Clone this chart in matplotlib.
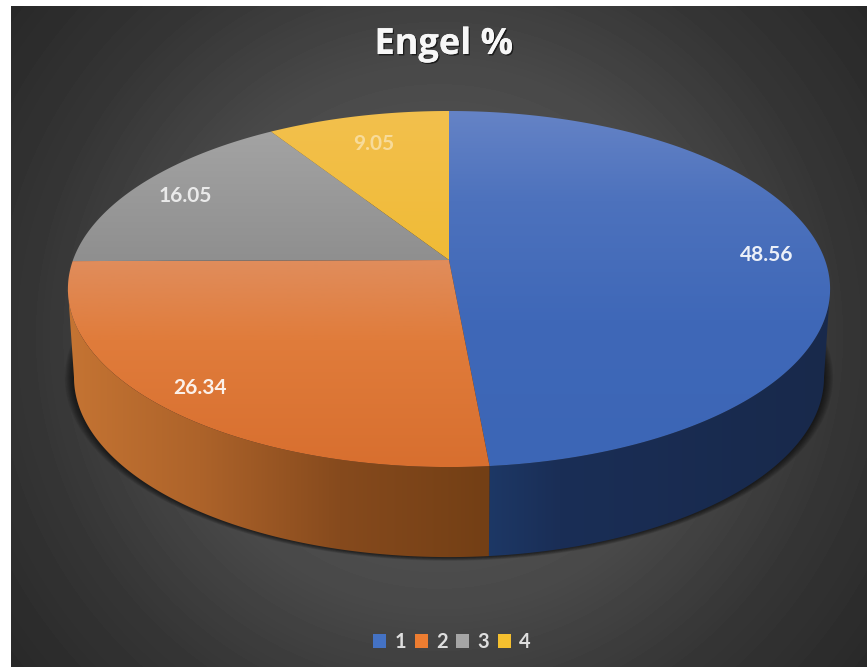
import numpy as np
import matplotlib
matplotlib.use("Agg")
import matplotlib.pyplot as plt
import matplotlib.patheffects as pe
from matplotlib.colors import to_rgb
from matplotlib.patches import Patch, Polygon

# Chart content
title = "Engel %"
categories = ["1", "2", "3", "4"]
values = [48.56, 26.34, 16.05, 9.05]

WIDTH, HEIGHT = 867, 667
CX = 449
TILT = 0.163
TOP_DISK = dict(a=376, b=173.3, cy=260)
BOTTOM_DISK = dict(a=370, b=175, cy=348)

legend_colors = ["#4472c4", "#ed7d31", "#a5a5a5", "#f5c02f"]
top_gradients = [
    [(111, "#6583c6"), (200, "#4d72bd"), (320, "#3f68b8"), (467, "#3c66b6")],
    [(260, "#e08d5c"), (340, "#e07c3b"), (467, "#d86f2f")],
    [(132, "#a3a3a3"), (260, "#8f8f8f")],
    [(111, "#f3c04d"), (260, "#f0bb36")],
]
side_gradients = {
    0: [(488, "#1d3866"), (560, "#1a2e56"), (830, "#18294b")],
    1: [(68, "#c57433"), (200, "#ad632a"), (340, "#864a1d"), (488, "#733f15")],
}
label_radius = [0.85, 0.88, 0.85, 0.80]
label_alpha = [0.9, 0.9, 0.8, 0.45]


def project(angle, radius, disk):
    """Perspective projection of a polar position (degrees clockwise from the back)."""
    t = np.radians(angle)
    u, v = radius * np.sin(t), radius * np.cos(t)
    w = 1.0 / (1.0 + TILT * v)
    return CX + disk["a"] * u * w, disk["cy"] - disk["b"] * v * w


def arc(start, end, disk):
    xs, ys = project(np.linspace(start, end, 240), 1.0, disk)
    return np.column_stack([xs, ys])


def gradient_image(stops, n=700):
    pos = [p for p, _ in stops]
    rgb = np.array([to_rgb(c) for _, c in stops])
    grid = np.linspace(0, max(WIDTH, HEIGHT), n)
    return np.stack([np.interp(grid, pos, rgb[:, i]) for i in range(3)], axis=-1)


def fill_gradient(ax, vertices, stops, vertical, zorder):
    ramp = gradient_image(stops)
    img = ramp[:, None, :] if vertical else ramp[None, :, :]
    side = max(WIDTH, HEIGHT)
    im = ax.imshow(img, extent=(0, side, side, 0), aspect="auto",
                   zorder=zorder, interpolation="bilinear")
    clip = Polygon(vertices, closed=True, transform=ax.transData,
                   facecolor="none", edgecolor="none")
    ax.add_patch(clip)
    im.set_clip_path(clip)


fig = plt.figure(figsize=(WIDTH / 100, HEIGHT / 100), dpi=100, facecolor="white")
ax = fig.add_axes([0, 0, 1, 1])

# Dark radial backdrop
yy, xx = np.mgrid[6:HEIGHT, 11:WIDTH]
dist = np.hypot(xx - 439, yy - 336)
shade = np.interp(dist, [0, 264, 306, 409, 540], [0x5a, 0x4a, 0x44, 0x35, 0x29]) / 255
ax.imshow(shade, cmap="gray", vmin=0, vmax=1, extent=(11, WIDTH, HEIGHT, 6),
          aspect="auto", zorder=0)

# Soft shadow hugging the underside of the disk
for grow in np.arange(9, 0, -1.0):
    disk = dict(a=BOTTOM_DISK["a"] + grow, b=BOTTOM_DISK["b"] + grow * 0.35,
                cy=BOTTOM_DISK["cy"])
    ax.add_patch(Polygon(arc(0, 360, disk), closed=True, facecolor="black",
                         edgecolor="none", alpha=0.08, zorder=1))

# Slice boundaries in degrees
edges = np.concatenate([[0], np.cumsum(values)]) / np.sum(values) * 360
silhouette = np.degrees(np.arccos(-TILT))

# Cylinder wall for the two slices facing the viewer
wall_spans = {0: (silhouette, edges[1]), 1: (edges[1], 360 - silhouette)}
for i, (start, end) in wall_spans.items():
    verts = np.vstack([arc(start, end, TOP_DISK), arc(end, start, BOTTOM_DISK)])
    fill_gradient(ax, verts, side_gradients[i], vertical=False, zorder=2)

# Top face of each slice
centre = project(0.0, 0.0, TOP_DISK)
for i in range(len(values)):
    verts = np.vstack([[centre], arc(edges[i], edges[i + 1], TOP_DISK)])
    fill_gradient(ax, verts, top_gradients[i], vertical=True, zorder=3)

# Value labels placed along each slice's mid-angle
for i, val in enumerate(values):
    x, y = project((edges[i] + edges[i + 1]) / 2, label_radius[i], TOP_DISK)
    ax.text(x, y + 2, f"{val:.2f}", color="white", alpha=label_alpha[i], fontsize=15,
            family="Lato", fontweight="bold", ha="center", va="center", zorder=5)

# Title with a subtle drop shadow
ax.text(444, 45, title, color="#f7f7f7", fontsize=26, family="Open Sans",
        fontweight="bold", ha="center", va="center", zorder=5,
        path_effects=[pe.withSimplePatchShadow(offset=(1, -1), shadow_rgbFace="black", alpha=0.6),
                      pe.Normal()])

handles = [Patch(facecolor=c, edgecolor="none", label=lab)
           for c, lab in zip(legend_colors, categories)]
leg = ax.legend(handles=handles, ncol=4, frameon=False, loc="center",
                bbox_to_anchor=(452, 642), bbox_transform=ax.transData,
                fontsize=14.5, labelcolor="#dedede", handlelength=0.64, handleheight=0.64,
                handletextpad=0.42, columnspacing=0.42, borderpad=0, borderaxespad=0)
for txt in leg.get_texts():
    txt.set_family("Lato")
    txt.set_fontweight("bold")

ax.set_xlim(0, WIDTH)
ax.set_ylim(HEIGHT, 0)
ax.axis("off")
fig.savefig("out.png", dpi=100, facecolor="white")
